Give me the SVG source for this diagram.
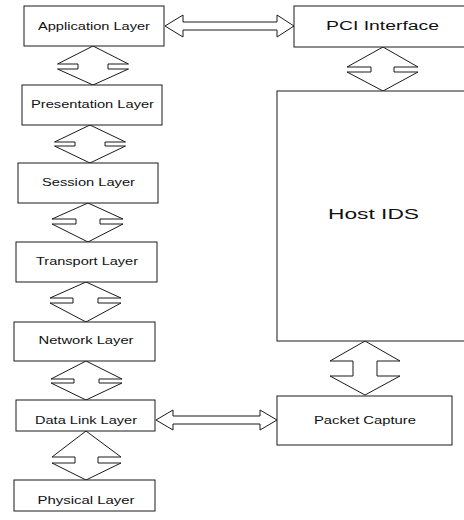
<svg xmlns="http://www.w3.org/2000/svg" width="464" height="520" viewBox="0 0 464 520">
<style>
.box{fill:#fff;stroke:#1a1a1a;stroke-width:1}
.arr{fill:#fff;stroke:#1a1a1a;stroke-width:1;stroke-linejoin:miter}
.t{font-family:"Liberation Sans",Arial,sans-serif;font-size:10.5px;fill:#111;text-anchor:middle}
.t2{font-family:"Liberation Sans",Arial,sans-serif;font-size:12px;fill:#111;text-anchor:middle}
.t3{font-family:"Liberation Sans",Arial,sans-serif;font-size:14px;fill:#111;text-anchor:middle}
</style>
<rect width="464" height="520" fill="#fff"/>
<g id="connectors">
<polygon class="arr" points="93,46 128.5,64 108,64 108,69 128.5,69 93,85 57.5,69 78,69 78,64 57.5,64"/>
<polygon class="arr" points="90,125 125.5,142 105,142 105,146 125.5,146 90,163 54.5,146 75,146 75,142 54.5,142"/>
<polygon class="arr" points="88,203 123,219 100,219 100,224 123,224 88,242 52,224 76,224 76,219 52,219"/>
<polygon class="arr" points="86,282 121,298 98,298 98,303 121,303 86,322 50,303 73,303 73,298 50,298"/>
<polygon class="arr" points="86,361 122,379 99,379 99,383 122,383 86,400 51,383 74,383 74,379 51,379"/>
<polygon class="arr" points="86,431 121,457 98,457 98,463 121,463 86,480 52,463 75,463 75,457 52,457"/>
<polygon class="arr" points="383,47 418,67 394,67 394,72 418,72 383,91 347,72 371,72 371,67 347,67"/>
<polygon class="arr" points="365,341 400,361 377,361 377,376 400,376 365,395 330,376 353,376 353,361 330,361"/>
<polygon class="arr" points="165,26 183,15 183,22 277,22 277,15 294,26 277,37 277,30 183,30 183,37"/>
<polygon class="arr" points="156,420 173,410 173,416 260,416 260,410 277,420 260,430 260,424 173,424 173,430"/>
</g>
<g id="app"><rect class="box" x="24" y="6" width="140" height="40"/><text class="t" x="94" y="30" textLength="112" lengthAdjust="spacingAndGlyphs">Application Layer</text></g>
<g id="pres"><rect class="box" x="22" y="85" width="140" height="40"/><text class="t" x="92.5" y="108" textLength="123" lengthAdjust="spacingAndGlyphs">Presentation Layer</text></g>
<g id="session"><rect class="box" x="18" y="163" width="140" height="40"/><text class="t" x="88.5" y="186" textLength="93" lengthAdjust="spacingAndGlyphs">Session Layer</text></g>
<g id="transport"><rect class="box" x="16" y="242" width="141" height="40"/><text class="t" x="87" y="265" textLength="102" lengthAdjust="spacingAndGlyphs">Transport Layer</text></g>
<g id="network"><rect class="box" x="14" y="322" width="141" height="39"/><text class="t" x="86" y="344" textLength="95" lengthAdjust="spacingAndGlyphs">Network Layer</text></g>
<g id="datalink"><rect class="box" x="16" y="400" width="139" height="31"/><text class="t" x="86" y="424" textLength="102" lengthAdjust="spacingAndGlyphs">Data Link Layer</text></g>
<g id="physical"><rect class="box" x="14" y="480" width="141" height="31"/><text class="t" x="86" y="504" textLength="97" lengthAdjust="spacingAndGlyphs">Physical Layer</text></g>
<g id="pci"><rect class="box" x="294" y="6" width="180" height="41"/><text class="t2" x="382.5" y="30" textLength="113" lengthAdjust="spacingAndGlyphs">PCI Interface</text></g>
<g id="hostids"><rect class="box" x="277" y="91" width="200" height="250"/><text class="t3" x="373.5" y="219" textLength="91" lengthAdjust="spacingAndGlyphs">Host IDS</text></g>
<g id="packet"><rect class="box" x="277" y="396" width="175" height="49"/><text class="t" x="365" y="424" textLength="102" lengthAdjust="spacingAndGlyphs">Packet Capture</text></g>
</svg>
